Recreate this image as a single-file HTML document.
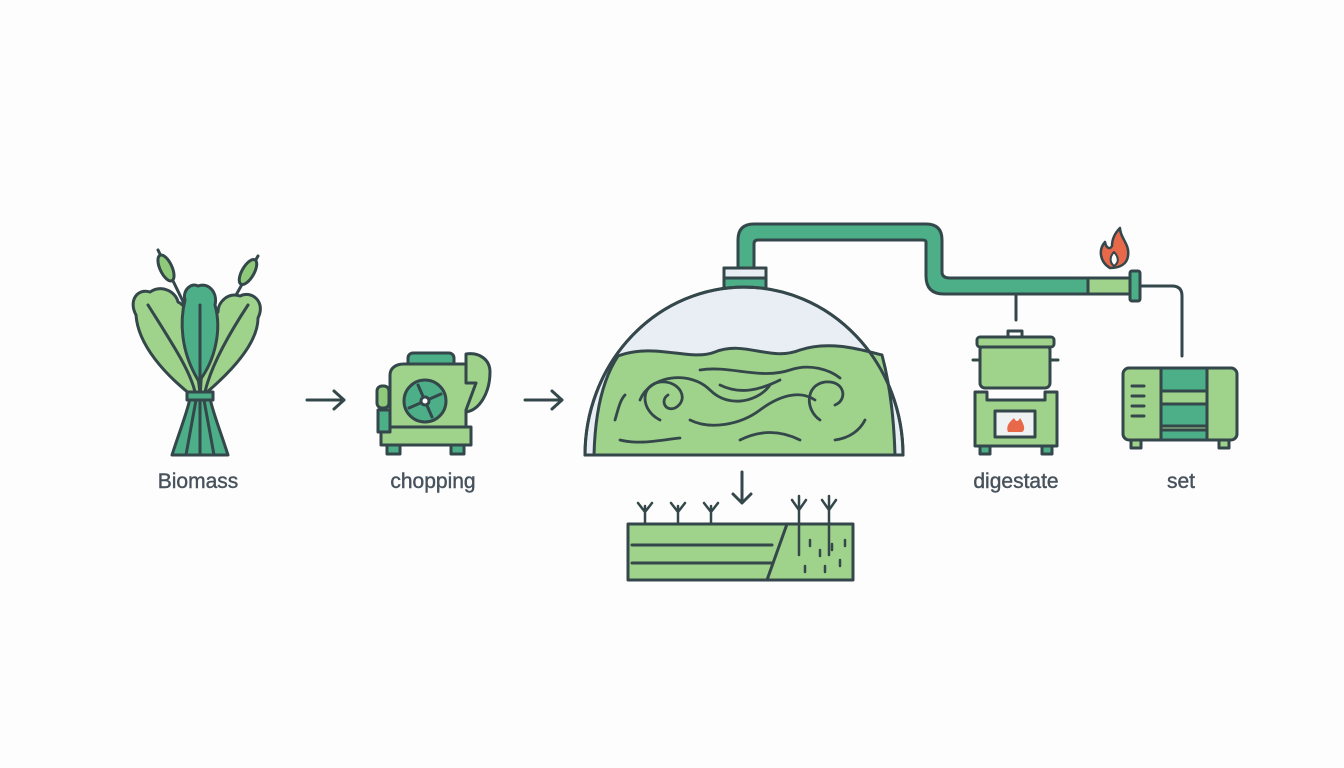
<!DOCTYPE html>
<html><head><meta charset="utf-8"><style>
html,body{margin:0;padding:0;background:#fdfdfd;}
svg{display:block}
text{font-family:"Liberation Sans",sans-serif;font-size:21px;fill:#47525c;text-anchor:middle;stroke:#47525c;stroke-width:0.4}
</style></head><body>
<svg width="1344" height="768" viewBox="0 0 1344 768" xmlns="http://www.w3.org/2000/svg">
<rect width="1344" height="768" fill="#fdfdfd"/>
<g stroke="#34474a" stroke-width="3" stroke-linejoin="round" stroke-linecap="round">
<!-- Biomass -->
<line x1="158" y1="250" x2="192" y2="320" />
<line x1="258" y1="256" x2="222" y2="320" />
<ellipse cx="166" cy="268" rx="6" ry="14" transform="rotate(-25 166 268)" fill="#8fc97a"/>
<ellipse cx="248" cy="272" rx="6" ry="14" transform="rotate(30 248 272)" fill="#8fc97a"/>
<path d="M195 398 C165 375 138 345 136 315 C128 300 138 288 150 292 C162 284 176 292 178 302 C188 306 190 322 188 342 C195 362 200 382 200 398Z" fill="#9fd28a"/>
<path d="M200 398 C228 375 258 345 258 318 C266 302 252 290 240 296 C228 292 218 302 218 312 C208 322 205 345 202 365Z" fill="#9fd28a"/>
<path d="M198 380 C180 350 180 320 185 300 C182 290 192 282 198 286 C208 282 218 292 215 305 C222 330 215 360 200 380Z" fill="#4caf88"/>
<path d="M172 455 C180 430 188 410 190 398 L210 398 C212 410 220 430 228 455Z" fill="#4caf88"/>
<line x1="186" y1="455" x2="196" y2="400"/><line x1="200" y1="455" x2="200" y2="400"/><line x1="214" y1="455" x2="204" y2="400"/>
<rect x="187" y="392" width="26" height="8" fill="#4caf88"/>
<path d="M148 305 C170 340 190 370 195 392 M248 305 C225 340 210 370 205 392 M200 305 L200 392" fill="none"/>
<!-- arrows -->
<path d="M307 400 H344 M334 391 L344 400 L334 409" fill="none"/>
<path d="M525 400 H562 M552 391 L562 400 L552 409" fill="none"/>
<!-- chopper -->
<rect x="408" y="353" width="46" height="18" rx="5" fill="#4caf88"/>
<path d="M466 354 C480 352 490 360 490 372 C490 392 480 410 466 412 Z" fill="#9fd28a"/>
<rect x="377" y="386" width="12" height="22" rx="5" fill="#8fc97a"/>
<path d="M390 375 C390 368 396 364 404 364 L466 364 L466 383 L476 383 L466 410 L466 440 L390 440Z" fill="#9fd28a"/>
<rect x="381" y="427" width="90" height="18" fill="#9fd28a"/>
<rect x="378" y="410" width="12" height="22" fill="#4caf88"/>
<rect x="387" y="445" width="13" height="9" fill="#4caf88"/>
<rect x="451" y="445" width="13" height="9" fill="#4caf88"/>
<circle cx="425" cy="401" r="21" fill="#4caf88"/>
<path d="M425 401 L418 385 M425 401 L441 394 M425 401 L432 417 M425 401 L409 408" stroke-width="3"/>
<circle cx="425" cy="401" r="4" fill="#fff"/>
<!-- pipe -->
<path d="M738 268 L738 240 Q738 224 754 224 L926 224 Q942 224 942 240 L942 272 Q942 278 950 278 L1130 278 L1130 294 L944 294 Q926 294 926 276 L926 242 Q926 240 922 240 L758 240 Q754 240 754 244 L754 268Z" fill="#4caf88"/>
<rect x="1088" y="278" width="42" height="16" fill="#9fd28a"/>
<rect x="1130" y="271" width="10" height="30" rx="2" fill="#4caf88"/>
<path d="M1110 268 C1100 262 1098 250 1105 242 C1106 248 1110 250 1112 246 C1112 238 1116 232 1120 228 C1120 238 1130 244 1128 256 C1127 264 1120 268 1110 268Z" fill="#e8694a" stroke-width="2.5"/>
<path d="M1114 266 C1109 262 1110 256 1114 252 C1118 256 1120 262 1114 266Z" fill="#fff" stroke-width="2"/>
<path d="M1140 286 H1172 Q1182 286 1182 296 V356" fill="none"/>
<line x1="1016" y1="294" x2="1016" y2="320"/>
<!-- dome -->
<rect x="724" y="268" width="42" height="22" fill="#4caf88"/>
<rect x="724" y="268" width="42" height="10" fill="#e8eef3"/>
<path d="M585 455 A159 168 0 0 1 903 455Z" fill="#e8eef3"/>
<path d="M594 455 C595 415 602 380 618 356 C655 342 690 362 715 352 C745 340 770 362 800 350 C830 340 862 350 882 355 C890 385 894 420 895 455Z" fill="#9fd28a"/>
<path d="M585 455 A159 168 0 0 1 903 455Z" fill="none"/>
<g fill="none" stroke-width="2.8">
<path d="M660 420 C640 410 640 385 660 382 C680 380 690 400 675 408 C665 412 660 400 668 395"/>
<path d="M640 400 C650 375 690 370 710 390 C730 410 760 400 770 385"/>
<path d="M690 420 C710 430 740 425 760 410 C780 395 800 390 815 400"/>
<path d="M820 420 C805 410 805 385 825 382 C845 380 848 400 835 405"/>
<path d="M700 370 C730 365 760 380 790 370 C810 363 830 370 840 378"/>
<path d="M620 440 C640 445 660 440 680 438 M740 440 C760 430 780 430 800 440 M835 440 C850 438 860 430 865 420 M615 420 C618 410 620 400 625 395"/>
<path d="M720 385 C740 395 760 390 780 380"/>
</g>
<line x1="585" y1="455" x2="903" y2="455"/>
<!-- down arrow -->
<path d="M742 472 V503 M733 494 L742 503 L751 494" fill="none"/>
<!-- field -->
<rect x="628" y="524" width="225" height="56" fill="#9fd28a"/>
<path d="M632 545 H772 M632 563 H772 M787 524 L767 580" fill="none"/>
<g fill="none" stroke-width="2.5"><path d="M810 540 v6 M820 550 v6 M832 544 v6 M840 560 v6 M805 566 v6 M825 566 v6 M845 540 v6"/></g>
<g fill="#34474a" stroke-width="2.5">
<path d="M645 524 V506 M638 503 L645 512 L652 503 M678 524 V506 M671 503 L678 512 L685 503 M711 524 V506 M704 503 L711 512 L718 503 M799 555 V496 M792 500 L799 510 L806 500 M829 555 V496 M822 500 L829 510 L836 500" fill="none"/>
</g>
<!-- pot & stove -->
<rect x="980" y="345" width="70" height="43" rx="5" fill="#9fd28a"/>
<rect x="977" y="337" width="77" height="10" rx="3" fill="#9fd28a"/>
<rect x="1008" y="331" width="14" height="6" fill="#fff"/>
<path d="M973 360 H980 M1050 360 H1058" />
<path d="M975 392 H987 V400 H1045 V392 H1057 V446 H975Z" fill="#9fd28a"/>
<rect x="995" y="411" width="40" height="26" fill="#eef2f2"/>
<path d="M1008 432 C1005 425 1012 420 1014 418 C1016 422 1018 422 1020 418 C1024 424 1026 430 1022 432Z" fill="#e8694a" stroke="none"/>
<rect x="980" y="446" width="10" height="8" fill="#4caf88"/>
<rect x="1042" y="446" width="10" height="8" fill="#4caf88"/>
<!-- generator -->
<rect x="1123" y="368" width="114" height="72" rx="6" fill="#9fd28a"/>
<rect x="1161" y="368" width="46" height="23" fill="#4caf88"/>
<rect x="1161" y="404" width="46" height="22" fill="#4caf88"/>
<rect x="1161" y="430" width="46" height="10" fill="#4caf88"/>
<path d="M1161 368 V440 M1207 368 V440 M1161 391 H1207 M1161 404 H1207 M1161 426 H1207 M1132 386 H1144 M1132 396 H1144 M1132 406 H1144 M1132 416 H1144"/>
<rect x="1131" y="440" width="10" height="8" fill="#9fd28a"/>
<rect x="1219" y="440" width="10" height="8" fill="#9fd28a"/>
</g>
<text x="198" y="488">Biomass</text>
<text x="433" y="488">chopping</text>
<text x="1016" y="488">digestate</text>
<text x="1181" y="488">set</text>
</svg>
</body></html>
